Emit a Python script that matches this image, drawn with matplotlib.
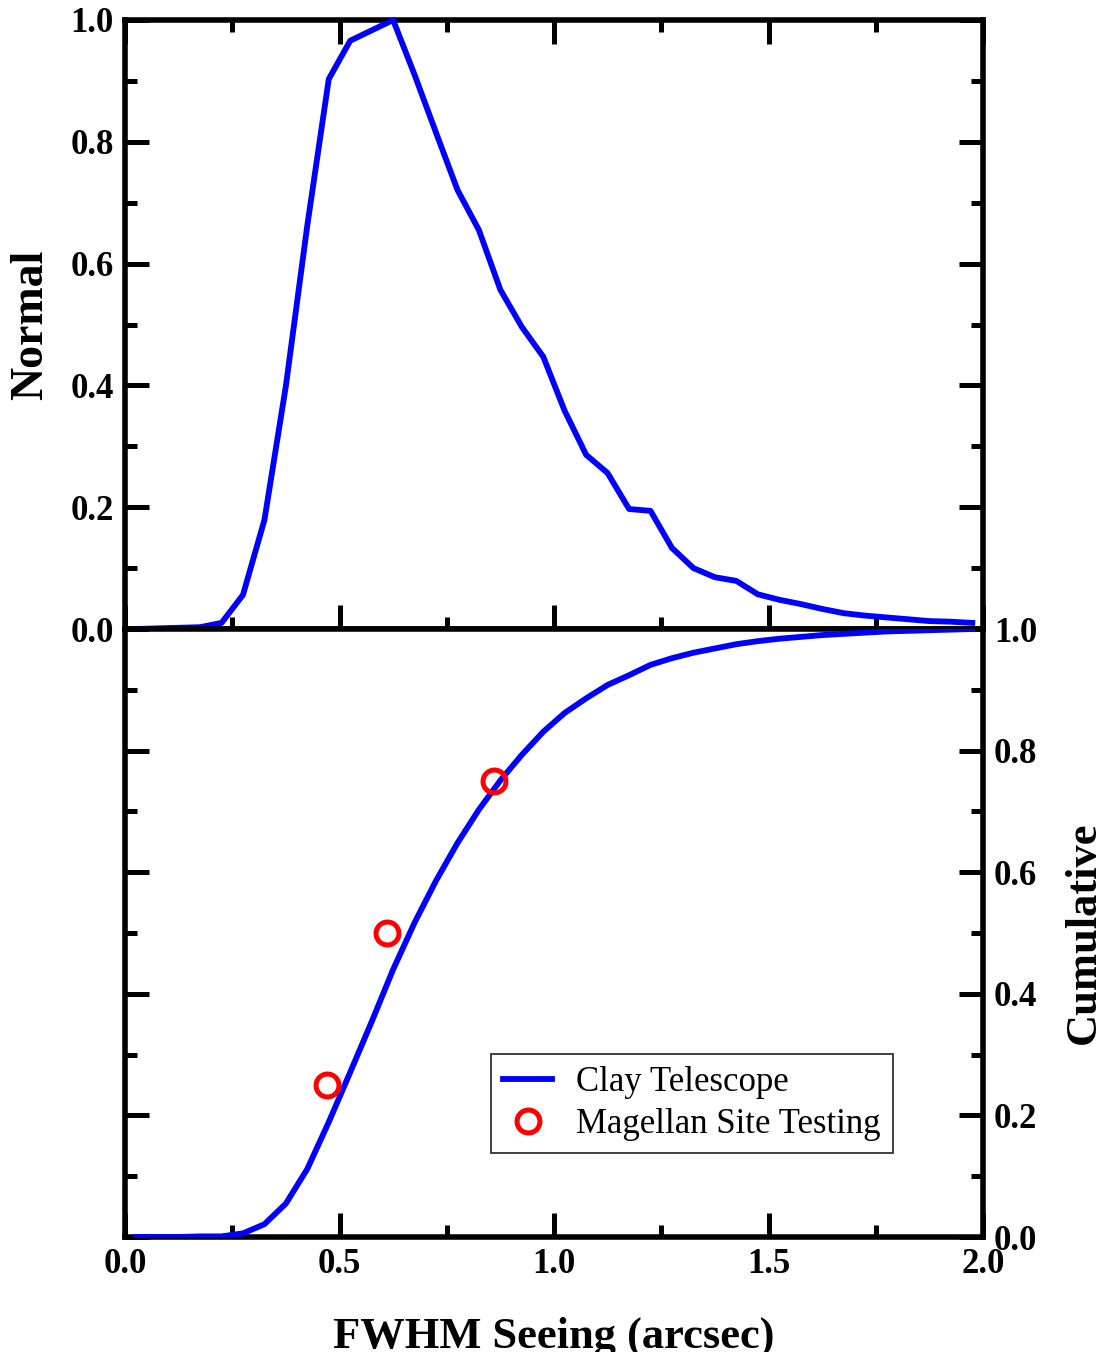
import matplotlib
matplotlib.use("Agg")
import matplotlib.pyplot as plt
from matplotlib.ticker import MultipleLocator, FormatStrFormatter

# bin centres (arcsec) shared by both curves
seeing = [0.025, 0.075, 0.125, 0.175, 0.225, 0.275, 0.325, 0.375, 0.425, 0.475,
          0.525, 0.575, 0.625, 0.675, 0.725, 0.775, 0.825, 0.875, 0.925, 0.975,
          1.025, 1.075, 1.125, 1.175, 1.225, 1.275, 1.325, 1.375, 1.425, 1.475,
          1.525, 1.575, 1.625, 1.675, 1.725, 1.775, 1.825, 1.875, 1.925, 1.975]

# top panel: normalised distribution (Clay Telescope)
normal = [0.000, 0.001, 0.002, 0.003, 0.010, 0.056, 0.179, 0.399, 0.663, 0.903,
          0.966, 0.983, 1.000, 0.910, 0.815, 0.721, 0.655, 0.557, 0.496, 0.447,
          0.358, 0.286, 0.256, 0.197, 0.194, 0.133, 0.100, 0.085, 0.079, 0.057,
          0.048, 0.041, 0.033, 0.026, 0.022, 0.019, 0.016, 0.013, 0.012, 0.010]

# bottom panel: cumulative distribution
cumulative = [0.000, 0.000, 0.000, 0.001, 0.001, 0.006, 0.021, 0.055, 0.112, 0.189,
              0.271, 0.354, 0.440, 0.517, 0.586, 0.648, 0.703, 0.751, 0.793, 0.831,
              0.862, 0.886, 0.908, 0.924, 0.941, 0.952, 0.961, 0.968, 0.975, 0.980,
              0.984, 0.987, 0.990, 0.992, 0.994, 0.996, 0.997, 0.998, 0.999, 1.000]

# Magellan site testing quartiles
site_x = [0.47, 0.61, 0.86]
site_y = [0.25, 0.50, 0.75]

plt.rcParams["font.family"] = ["Liberation Serif", "DejaVu Serif"]

W, H = 1101, 1352
fig = plt.figure(figsize=(W / 100, H / 100), dpi=100)

left, right = 125 / W, 983 / W
y_top, y_mid, y_bot = 1 - 20 / H, 1 - 629 / H, 1 - 1237 / H
ax1 = fig.add_axes([left, y_mid, right - left, y_top - y_mid])
ax2 = fig.add_axes([left, y_bot, right - left, y_mid - y_bot])

blue = "#0000ff"
red = "#ff0000"

ax1.plot(seeing, normal, color=blue, lw=4.2, clip_on=False, zorder=3)
ax2.plot(seeing, cumulative, color=blue, lw=4.2, label="Clay Telescope", zorder=3)
ax2.plot(site_x, site_y, "o", ms=16.5, mfc="none", mec=red, mew=3.6,
         label="Magellan Site Testing", zorder=4)

for ax in (ax1, ax2):
    ax.set_xlim(0, 2)
    ax.set_ylim(0, 1)
    ax.xaxis.set_major_locator(MultipleLocator(0.5))
    ax.xaxis.set_minor_locator(MultipleLocator(0.25))
    ax.yaxis.set_major_locator(MultipleLocator(0.2))
    ax.yaxis.set_minor_locator(MultipleLocator(0.1))
    ax.xaxis.set_major_formatter(FormatStrFormatter("%.1f"))
    ax.yaxis.set_major_formatter(FormatStrFormatter("%.1f"))
    for s in ax.spines.values():
        s.set_linewidth(4)
    ax.tick_params(which="major", direction="in", length=17, width=3.6,
                   labelsize=25, pad=8)
    ax.tick_params(which="minor", direction="in", length=8.5, width=3.6)

ax1.tick_params(which="both", top=True, bottom=True, left=True, right=True,
                labelbottom=False, labelleft=True, labelright=False)
ax2.tick_params(which="both", top=False, bottom=True, left=True, right=True,
                labelbottom=True, labelleft=False, labelright=True)
for ax in (ax1, ax2):
    for lab in ax.get_xticklabels() + ax.get_yticklabels():
        lab.set_fontweight("bold")

ax1.set_ylabel("Normal", fontsize=33, fontweight="bold")
ax1.yaxis.set_label_coords(-0.085, 0.5)

ax2.yaxis.set_label_position("right")
ax2.set_ylabel("Cumulative", fontsize=32, fontweight="bold")
ax2.yaxis.set_label_coords(1.094, 0.5)

ax2.set_xlabel("FWHM Seeing (arcsec)", fontsize=32, fontweight="bold")
ax2.xaxis.set_label_coords(0.5, -0.13)

leg = ax2.legend(loc="lower right", bbox_to_anchor=(0.895, 0.138),
                 borderaxespad=0, fontsize=25, frameon=True, fancybox=False,
                 edgecolor="black", handlelength=1.4, handletextpad=0.7,
                 borderpad=0.35, labelspacing=0.25)
leg.get_frame().set_linewidth(1.3)

fig.savefig("out.png", dpi=100)
